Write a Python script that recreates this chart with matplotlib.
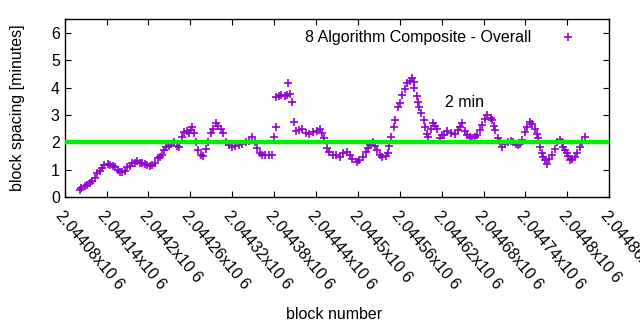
import matplotlib
matplotlib.use("Agg")
import matplotlib.pyplot as plt

plt.rcParams['font.family'] = ['Liberation Sans', 'DejaVu Sans']

# block number vs. average block spacing (minutes)
blocks = [
    2044102, 2044104, 2044109, 2044112, 2044116, 2044119, 2044123, 2044127, 2044130, 2044133,
    2044137, 2044142, 2044145, 2044149, 2044152, 2044156, 2044159, 2044162, 2044166, 2044170,
    2044173, 2044176, 2044181, 2044183, 2044188, 2044191, 2044195, 2044198, 2044202, 2044205,
    2044209, 2044214, 2044216, 2044219, 2044222, 2044225, 2044229, 2044232, 2044237, 2044241,
    2044244, 2044248, 2044251, 2044255, 2044258, 2044261, 2044262, 2044265, 2044268, 2044271,
    2044275, 2044278, 2044283, 2044285, 2044290, 2044293, 2044297, 2044300, 2044304, 2044307,
    2044311, 2044316, 2044320, 2044324, 2044330, 2044334, 2044340, 2044344, 2044349, 2044353,
    2044356, 2044360, 2044363, 2044367, 2044373, 2044377, 2044380, 2044383, 2044383, 2044387,
    2044390, 2044395, 2044399, 2044400, 2044403, 2044405, 2044409, 2044412, 2044416, 2044420,
    2044426, 2044430, 2044435, 2044441, 2044445, 2044449, 2044452, 2044456, 2044459, 2044464,
    2044468, 2044474, 2044478, 2044484, 2044488, 2044492, 2044498, 2044502, 2044507, 2044511,
    2044514, 2044518, 2044521, 2044525, 2044528, 2044532, 2044535, 2044540, 2044543, 2044545,
    2044548, 2044551, 2044553, 2044557, 2044560, 2044563, 2044567, 2044570, 2044574, 2044577,
    2044580, 2044581, 2044584, 2044586, 2044588, 2044591, 2044594, 2044596, 2044599, 2044600,
    2044605, 2044607, 2044610, 2044613, 2044617, 2044620, 2044624, 2044628, 2044634, 2044639,
    2044643, 2044646, 2044649, 2044653, 2044656, 2044660, 2044663, 2044667, 2044670, 2044675,
    2044678, 2044682, 2044685, 2044690, 2044692, 2044695, 2044696, 2044700, 2044703, 2044707,
    2044711, 2044715, 2044719, 2044722, 2044726, 2044729, 2044732, 2044735, 2044739, 2044742,
    2044746, 2044749, 2044754, 2044756, 2044758, 2044761, 2044763, 2044765, 2044768, 2044771,
    2044774, 2044778, 2044782, 2044785, 2044790, 2044792, 2044794, 2044797, 2044800, 2044801,
    2044804, 2044807, 2044811, 2044814, 2044818, 2044821, 2044825,
]
spacing = [
    0.26, 0.33, 0.40, 0.45, 0.51, 0.60, 0.69, 0.88, 0.95, 1.06,
    1.17, 1.20, 1.17, 1.12, 1.10, 0.99, 0.92, 0.91, 0.95, 1.09,
    1.15, 1.24, 1.26, 1.30, 1.26, 1.24, 1.20, 1.17, 1.15, 1.17,
    1.24, 1.42, 1.48, 1.53, 1.70, 1.82, 1.85, 1.95, 2.00, 1.85,
    1.82, 2.20, 2.37, 2.40, 2.33, 2.45, 2.55, 2.35, 2.00, 1.70,
    1.53, 1.50, 1.75, 2.00, 2.33, 2.50, 2.70, 2.60, 2.50, 2.35,
    2.00, 1.90, 1.82, 1.85, 1.90, 1.95, 2.00, 2.05, 2.20, 2.00,
    1.79, 1.60, 1.53, 1.55, 1.53, 1.52, 2.20, 2.55, 3.65, 3.70,
    3.72, 3.68, 3.72, 4.15, 3.75, 3.47, 2.73, 2.40, 2.44, 2.50,
    2.33, 2.30, 2.37, 2.40, 2.50, 2.35, 2.15, 1.79, 1.65, 1.53,
    1.55, 1.46, 1.60, 1.64, 1.55, 1.40, 1.28, 1.35, 1.46, 1.65,
    1.79, 1.90, 2.00, 1.85, 1.72, 1.55, 1.46, 1.50, 1.60, 1.85,
    2.20, 2.55, 2.81, 3.28, 3.45, 3.72, 3.95, 4.15, 4.25, 4.34,
    4.20, 3.98, 3.70, 3.47, 3.30, 3.07, 2.80, 2.55, 2.30, 2.20,
    2.50, 2.70, 2.60, 2.50, 2.15, 2.25, 2.26, 2.40, 2.33, 2.30,
    2.44, 2.55, 2.70, 2.40, 2.26, 2.20, 2.15, 2.20, 2.26, 2.45,
    2.63, 2.85, 2.99, 2.90, 2.81, 2.60, 2.44, 2.15, 2.00, 1.82,
    1.95, 2.00, 2.05, 2.00, 1.92, 1.90, 1.95, 2.08, 2.37, 2.55,
    2.74, 2.65, 2.50, 2.30, 2.15, 1.82, 1.60, 1.46, 1.35, 1.20,
    1.40, 1.53, 1.75, 2.00, 2.08, 2.00, 1.82, 1.70, 1.60, 1.50,
    1.35, 1.40, 1.46, 1.60, 1.82, 2.00, 2.20,
]

target = 2.0
xticks = [2044080 + 60 * i for i in range(14)]
xtick_labels = ["2.04408", "2.04414", "2.0442", "2.04426", "2.04432", "2.04438", "2.04444",
                "2.0445", "2.04456", "2.04462", "2.04468", "2.04474", "2.0448", "2.04486"]

fs = 11.5
fig = plt.figure(figsize=(6.4, 3.3), dpi=100)
ax = fig.add_axes([0.101, 0.403, 0.851, 0.539])

ax.plot(blocks, spacing, linestyle="none", marker="+", color="#9400d3",
        markersize=6, markeredgewidth=1.2, label="8 Algorithm Composite - Overall")
ax.axhline(target, color="#00ee00", linewidth=3.2, zorder=3)
ax.text(2044653, 3.45, "2 min", ha="center", va="center", fontsize=fs)

ax.set_xlim(2044080, 2044860)
ax.set_ylim(0, 6.5)
ax.set_yticks(range(7))
ax.set_xticks(xticks)
ax.set_xticklabels([s + "x10 6" for s in xtick_labels], rotation=-50,
                   ha="left", va="top", rotation_mode="anchor", fontsize=fs)
ax.tick_params(direction="in", length=4, top=True, right=True, labelsize=fs)
ax.tick_params(axis="x", pad=8)
for sp in ax.spines.values():
    sp.set_linewidth(1.0)

ax.set_ylabel("block spacing [minutes]", fontsize=fs)
ax.yaxis.set_label_coords(-0.072, 0.5)
ax.set_xlabel("block number", fontsize=fs)
ax.xaxis.set_label_coords(0.495, -0.62)

ax.legend(loc="upper right", frameon=False, markerfirst=False, fontsize=fs,
          handlelength=1.4, handletextpad=1.6, borderaxespad=0.3,
          bbox_to_anchor=(0.965, 1.0))

fig.savefig("out.png", dpi=100)
